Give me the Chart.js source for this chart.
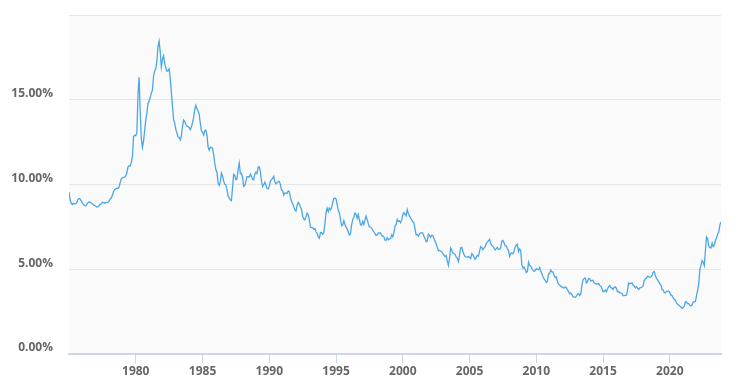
<!DOCTYPE html>
<html>
<head>
<meta charset="utf-8">
<script src="https://cdn.jsdelivr.net/npm/chart.js@4.4.0/dist/chart.umd.min.js"></script>
<style>
  html, body { margin: 0; padding: 0; background: #fff; }
  #wrap { width: 742px; height: 392px; }
</style>
</head>
<body>
<div id="wrap"><canvas id="rateChart"></canvas></div>
<script>
// 30-year fixed mortgage rate, monthly averages (%), Jan 1975 onward
var startYear = 1975;
var rates1975s = [
  9.55, 9.10, 8.89, 8.82, 8.89, 8.86, 8.86, 8.93, 9.11, 9.17, 9.14, 9.03,
  8.92, 8.81, 8.76, 8.73, 8.83, 8.92, 8.97, 8.96, 8.91, 8.86, 8.80, 8.77,
  8.72, 8.67, 8.69, 8.75, 8.83, 8.86, 8.94, 8.94, 8.90, 8.93, 8.93, 8.95,
  9.02, 9.15, 9.20, 9.36, 9.57, 9.71, 9.74, 9.78, 9.76, 9.86, 10.11, 10.35,
  10.39, 10.41, 10.43, 10.50, 10.69, 11.04, 11.09, 11.09, 11.30, 11.64, 12.83, 12.90
];
var rates1980s = [
  12.88, 13.04, 15.28, 16.32, 14.26, 12.71, 12.19, 12.56, 13.20, 13.79, 14.21, 14.79,
  14.90, 15.13, 15.40, 15.58, 16.40, 16.70, 16.83, 17.29, 18.16, 18.45, 17.83, 16.92,
  17.40, 17.60, 17.16, 16.89, 16.68, 16.70, 16.82, 16.27, 15.43, 14.61, 13.83, 13.62,
  13.25, 13.04, 12.80, 12.78, 12.63, 12.87, 13.42, 13.81, 13.73, 13.54, 13.44, 13.42,
  13.37, 13.23, 13.39, 13.65, 13.94, 14.42, 14.67, 14.47, 14.35, 14.13, 13.64, 13.18,
  13.08, 12.92, 13.17, 13.20, 12.91, 12.22, 12.03, 12.19, 12.19, 12.14, 11.78, 11.26,
  10.88, 10.71, 10.08, 9.94, 10.14, 10.68, 10.51, 10.20, 10.01, 9.98, 9.70, 9.31,
  9.20, 9.08, 9.04, 9.83, 10.60, 10.54, 10.28, 10.33, 10.89, 11.26, 10.65, 10.65,
  10.43, 9.89, 9.93, 10.20, 10.46, 10.46, 10.43, 10.60, 10.48, 10.30, 10.27, 10.61,
  10.73, 10.65, 11.03, 11.05, 10.77, 10.20, 9.88, 9.99, 10.13, 9.95, 9.77, 9.74
];
var rates1990s = [
  9.90, 10.20, 10.27, 10.37, 10.48, 10.16, 10.04, 10.10, 10.18, 10.18, 10.01, 9.67,
  9.64, 9.37, 9.50, 9.49, 9.47, 9.62, 9.58, 9.24, 9.01, 8.86, 8.71, 8.50,
  8.43, 8.76, 8.94, 8.85, 8.67, 8.51, 8.13, 7.98, 7.92, 8.09, 8.31, 8.22,
  7.91, 7.47, 7.46, 7.46, 7.37, 7.40, 7.21, 7.11, 6.91, 6.83, 7.16, 7.17,
  7.06, 7.15, 7.68, 8.32, 8.60, 8.40, 8.61, 8.51, 8.64, 8.93, 9.17, 9.20,
  9.15, 8.83, 8.46, 8.32, 7.96, 7.57, 7.61, 7.86, 7.64, 7.48, 7.38, 7.20,
  7.03, 7.08, 7.62, 7.93, 8.07, 8.32, 8.25, 8.00, 8.23, 7.92, 7.62, 7.60,
  7.82, 7.65, 7.90, 8.14, 7.94, 7.69, 7.50, 7.48, 7.43, 7.29, 7.21, 7.10,
  6.99, 7.04, 7.13, 7.14, 7.14, 7.00, 6.95, 6.92, 6.72, 6.71, 6.87, 6.74,
  6.79, 6.81, 7.04, 6.92, 7.15, 7.55, 7.63, 7.94, 7.82, 7.85, 7.74, 7.91
];
var rates2000s = [
  8.21, 8.33, 8.24, 8.15, 8.52, 8.29, 8.15, 8.03, 7.91, 7.80, 7.75, 7.38,
  7.03, 7.05, 6.95, 7.08, 7.15, 7.16, 7.13, 6.95, 6.82, 6.62, 6.66, 7.07,
  7.00, 6.89, 7.01, 6.99, 6.81, 6.65, 6.49, 6.29, 6.09, 6.11, 6.07, 6.05,
  5.92, 5.84, 5.75, 5.81, 5.48, 5.23, 5.63, 6.26, 6.15, 5.95, 5.93, 5.88,
  5.71, 5.64, 5.45, 5.83, 6.27, 6.29, 6.06, 5.87, 5.75, 5.72, 5.73, 5.75,
  5.71, 5.63, 5.93, 5.86, 5.72, 5.58, 5.70, 5.82, 5.77, 6.07, 6.33, 6.27,
  6.15, 6.25, 6.32, 6.51, 6.60, 6.68, 6.76, 6.52, 6.40, 6.36, 6.24, 6.14,
  6.22, 6.29, 6.16, 6.18, 6.26, 6.66, 6.70, 6.57, 6.38, 6.38, 6.21, 6.10,
  5.76, 5.92, 5.97, 5.92, 6.04, 6.32, 6.43, 6.48, 6.04, 6.20, 6.09, 5.29,
  5.06, 5.13, 5.00, 4.81, 4.86, 5.42, 5.22, 5.19, 5.06, 4.95, 4.88, 4.93
];
var rates2010s = [
  5.03, 4.99, 4.97, 5.10, 4.89, 4.74, 4.56, 4.43, 4.35, 4.23, 4.30, 4.71,
  4.76, 4.95, 4.84, 4.84, 4.64, 4.51, 4.55, 4.27, 4.11, 4.07, 3.99, 3.96,
  3.92, 3.89, 3.95, 3.91, 3.80, 3.68, 3.55, 3.60, 3.50, 3.38, 3.35, 3.35,
  3.41, 3.53, 3.57, 3.45, 3.54, 4.07, 4.37, 4.46, 4.49, 4.19, 4.26, 4.46,
  4.43, 4.30, 4.34, 4.34, 4.19, 4.16, 4.13, 4.12, 4.16, 4.04, 4.00, 3.86,
  3.67, 3.71, 3.77, 3.67, 3.84, 3.98, 4.05, 3.91, 3.89, 3.80, 3.94, 3.96,
  3.87, 3.66, 3.69, 3.61, 3.60, 3.57, 3.44, 3.44, 3.46, 3.47, 3.77, 4.20,
  4.15, 4.17, 4.20, 4.05, 4.01, 3.90, 3.97, 3.88, 3.81, 3.90, 3.92, 3.95,
  4.03, 4.33, 4.44, 4.47, 4.59, 4.57, 4.53, 4.55, 4.63, 4.83, 4.87, 4.64,
  4.46, 4.37, 4.27, 4.14, 4.07, 3.80, 3.77, 3.62, 3.61, 3.69, 3.70, 3.72
];
var rates2020s = [
  3.62, 3.47, 3.45, 3.31, 3.23, 3.16, 3.02, 2.94, 2.89, 2.83, 2.77, 2.68,
  2.74, 2.81, 3.08, 3.06, 2.96, 2.98, 2.87, 2.84, 2.90, 3.07, 3.07, 3.10,
  3.45, 3.76, 4.17, 4.98, 5.23, 5.52, 5.41, 5.22, 6.11, 6.90, 6.81, 6.36,
  6.27, 6.26, 6.54, 6.34, 6.43, 6.71, 6.84, 7.07, 7.20, 7.62, 7.79
];
var yearTicks = [1980, 1985, 1990, 1995, 2000, 2005, 2010, 2015, 2020];
var rateTicks = [0, 5, 10, 15, 20];

var allRates = [].concat(rates1975s, rates1980s, rates1990s, rates2000s, rates2010s, rates2020s);
var points = allRates.map(function (v, i) {
  return { x: startYear + i / 12, y: v };
});

var labelFont = { family: "'Open Sans', sans-serif", size: 12, weight: '700' };

var plotBackground = {
  id: 'plotBackground',
  beforeDraw: function (chart) {
    var a = chart.chartArea, ctx = chart.ctx;
    ctx.save();
    ctx.fillStyle = '#fafafa';
    ctx.fillRect(a.left, a.top, a.right - a.left, a.bottom - a.top);
    ctx.restore();
  }
};

new Chart(document.getElementById('rateChart'), {
  type: 'line',
  data: {
    datasets: [{
      data: points,
      borderColor: '#4ba7e6',
      borderWidth: 1.3,
      pointRadius: 0,
      tension: 0,
      fill: false
    }]
  },
  options: {
    responsive: true,
    maintainAspectRatio: false,
    animation: false,
    layout: { padding: { left: 0, right: 21, top: 15, bottom: 0 } },
    plugins: { legend: { display: false }, tooltip: { enabled: false } },
    scales: {
      x: {
        type: 'linear',
        min: points[0].x,
        max: points[points.length - 1].x,
        afterBuildTicks: function (scale) {
          scale.ticks = yearTicks.map(function (v) { return { value: v }; });
        },
        afterFit: function (scale) {
          scale.height = 38;
          scale.paddingLeft = 0;
          scale.paddingRight = 0;
        },
        grid: { drawOnChartArea: false, drawTicks: true, tickLength: 9, color: '#ccd6eb' },
        border: { display: true, color: '#ccd6eb', width: 2 },
        ticks: {
          color: '#666666',
          font: labelFont,
          padding: 1,
          maxRotation: 0,
          autoSkip: false,
          callback: function (v) { return String(v); }
        }
      },
      y: {
        min: 0,
        max: 20,
        afterBuildTicks: function (scale) {
          scale.ticks = rateTicks.map(function (v) { return { value: v }; });
        },
        afterFit: function (scale) {
          scale.width = 69;
          scale.paddingTop = 0;
          scale.paddingBottom = 0;
        },
        grid: { color: '#e6e6e6', drawTicks: false, lineWidth: 1 },
        border: { display: false },
        ticks: {
          color: '#666666',
          font: labelFont,
          padding: 16,
          labelOffset: -6,
          callback: function (v) { return v === 20 ? '' : v.toFixed(2) + '%'; }
        }
      }
    }
  },
  plugins: [plotBackground]
});
</script>
</body>
</html>
